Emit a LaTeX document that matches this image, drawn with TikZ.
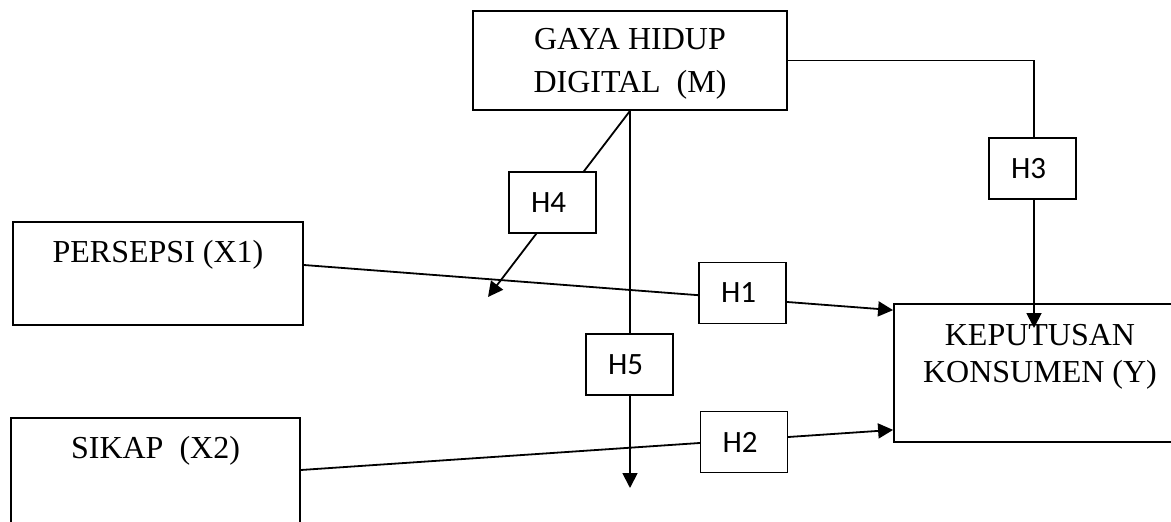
\documentclass[tikz,border=0pt]{standalone}
\usepackage{fontspec}
\setmainfont{Liberation Serif}
\newfontfamily\hfont{Carlito}
\usetikzlibrary{arrows.meta, calc}

\begin{document}
\begin{tikzpicture}[x=1pt, y=-1pt, line width=1.8pt,
	varbox/.style={draw, align=center},
	hbox/.style={draw, fill=white, font=\hfont\fontsize{31}{37}\selectfont, text width=43pt, inner xsep=22pt, inner ysep=0pt, align=left, minimum height=61pt},
	tip/.style={-{Triangle[length=15pt, width=15pt]}}]
	\useasboundingbox (0,0) rectangle (1171,522);
	\node [varbox, minimum width=314pt, minimum height=99pt, text height=73pt, text depth=10pt, font=\fontsize{32}{43}\selectfont] (M) at (630,60.5) {GAYA HIDUP\\DIGITAL\ \ (M)};
	\node [varbox, minimum width=290pt, minimum height=103pt, text height=22pt, text depth=45pt, font=\fontsize{32}{37}\selectfont] (X1) at (158,273.5) {PERSEPSI (X1)};
	\node [varbox, minimum width=289pt, minimum height=107pt, text height=22pt, text depth=49pt, font=\fontsize{32}{37}\selectfont] (X2) at (155.5,471.5) {SIKAP\ \ (X2)};
	\node [varbox, minimum width=292pt, minimum height=138pt, text height=28pt, text depth=10pt, font=\fontsize{32}{37}\selectfont] (Y) at (1040,373) {KEPUTUSAN\\KONSUMEN (Y)};
	\coordinate (h3tip) at (1034,328);
	\coordinate (h4tip) at (488,297);
	\coordinate (h5tip) at (630,488);
	\draw [tip] ($(X1.east)+(0,-8.5)$) -- ($(Y.north west)+(0,7)$);
	\draw [tip] ($(X2.east)+(0,-1.5)$) -- ($(Y.south west)+(0,-13)$);
	\draw [tip] (M.east) -| (h3tip);
	\draw [tip] (M.south) -- (h4tip);
	\draw [tip] (M.south) -- (h5tip);
	\node [hbox] (H1) at (742.5,293) {H1};
	\node [hbox] (H2) at (744,442) {H2};
	\node [hbox] (H3) at (1032.5,168.5) {H3};
	\node [hbox] (H4) at (552.5,202.5) {H4};
	\node [hbox] (H5) at (629.5,364.5) {H5};
\end{tikzpicture}
\end{document}
